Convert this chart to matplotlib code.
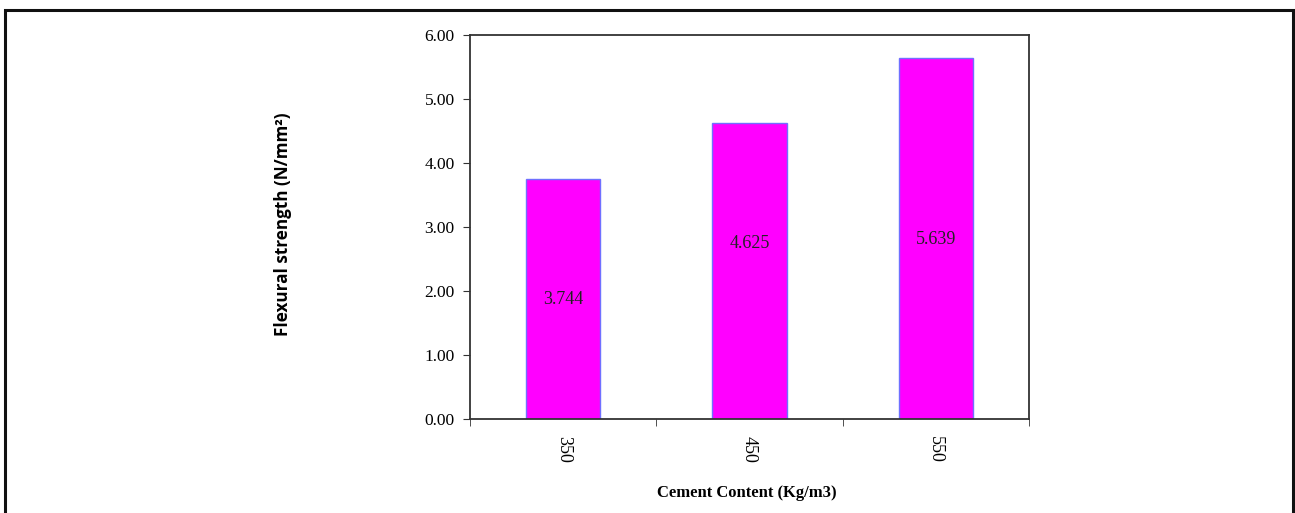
import matplotlib
matplotlib.use("Agg")
import matplotlib.pyplot as plt
from matplotlib.patches import Rectangle

categories = ["350", "450", "550"]
values = [3.744, 4.625, 5.639]
value_labels = ["3.744", "4.625", "5.639"]
label_y = [1.87, 2.75, 2.80]
yticks = [0, 1, 2, 3, 4, 5, 6]

fig = plt.figure(figsize=(12.95, 5.13), dpi=100)
ax = fig.add_axes([470/1295, 1-419/513, (1029-470)/1295, (419-35)/513])

x = list(range(len(categories)))
ax.bar(x, values, width=0.4, color="#ff00ff", edgecolor="#7070ff", linewidth=1.0)
for xi, ly, t in zip(x, label_y, value_labels):
    ax.text(xi, ly, t, ha="center", va="center", fontsize=13,
            family="Liberation Serif", color="#222222")

ax.set_xlim(-0.5, len(categories)-0.5)
ax.set_ylim(0, 6)
ax.set_yticks(yticks)
ax.set_yticklabels([f"{v:.2f}" for v in yticks], family="Liberation Serif", fontsize=12.5)
ax.set_xticks(x)
ax.set_xticklabels(categories, rotation=-90, family="Liberation Serif", fontsize=13)
ax.tick_params(axis="x", length=0, pad=12)
ax.set_xticks([-0.5, 0.5, 1.5, 2.5], minor=True)
ax.tick_params(axis="x", which="minor", length=5, direction="out", color="#333333")
ax.tick_params(axis="y", length=5, direction="out", color="#333333", pad=6)
for s in ax.spines.values():
    s.set_color("#333333")
    s.set_linewidth(1.3)

fig.text(747/1295, 1-493/513, "Cement Content (Kg/m3)", ha="center", va="center",
         family="Liberation Serif", fontweight="bold", fontsize=12)
fig.text(283/1295, 1-224/513, "Flexural strength (N/mm²)", ha="center", va="center",
         rotation=90, family="Open Sans", fontweight="bold", fontsize=12.3)

fig.patches.append(Rectangle((5/1295, -0.02), (1293-5)/1295, 1-10/513+0.02,
                             transform=fig.transFigure, fill=False,
                             edgecolor="#111111", linewidth=2.2))

fig.savefig("out.png", dpi=100)
